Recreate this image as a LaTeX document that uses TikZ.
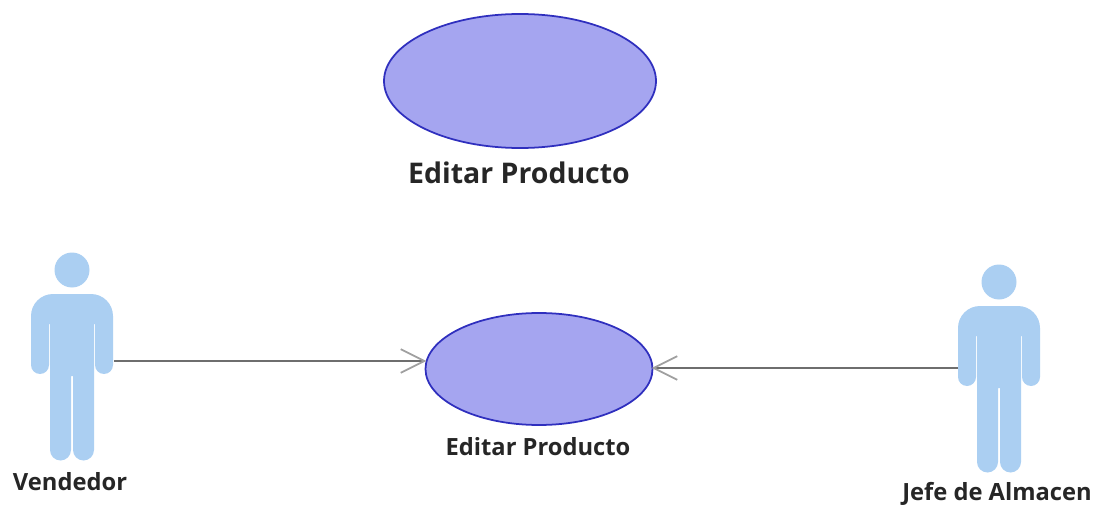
\documentclass[tikz,border=0pt]{standalone}
\usepackage{fontspec}
\setmainfont{Open Sans}
\usepackage{tikz}
\usetikzlibrary{arrows.meta,shapes.geometric}
\definecolor{usefill}{HTML}{A5A5F0}
\definecolor{usedraw}{HTML}{2F2FBE}
\definecolor{actorblue}{HTML}{ABCFF2}
\definecolor{linkgray}{HTML}{6E6E6E}
\definecolor{tipgray}{HTML}{A0A0A0}
\tikzset{
  usecase/.style={ellipse,draw=usedraw,fill=usefill,line width=1pt,inner sep=0pt},
  biglabel/.style={font=\bfseries\fontsize{16.2}{18}\selectfont,text=black!85,inner sep=0pt},
  smalllabel/.style={font=\bfseries\fontsize{13.5}{15}\selectfont,text=black!85,inner sep=0pt},
  link/.style={draw=linkgray,line width=0.8pt,-{Straight Barb[color=tipgray,length=13.5pt,width=13.5pt,line width=1pt]}},
  actorfig/.pic={
    \fill[actorblue] (0,0) circle (17.5);
    \fill[actorblue] (-41,95)
      arc[start angle=180,end angle=0,x radius=9,y radius=9] -- (-23,54) -- (-22,54)
      -- (-22,180) arc[start angle=180,end angle=0,x radius=10.5,y radius=10.5]
      -- (-1,106) -- (1,106) -- (1,180)
      arc[start angle=180,end angle=0,x radius=10.5,y radius=10.5]
      -- (22,54) -- (23,54) -- (23,95)
      arc[start angle=180,end angle=0,x radius=9,y radius=9]
      -- (41,46) arc[start angle=0,end angle=-90,x radius=22,y radius=22]
      -- (-19,24) arc[start angle=-90,end angle=-180,x radius=22,y radius=22] -- cycle;
  }
}
\begin{document}
\begin{tikzpicture}[x=0.02cm,y=-0.02cm]
  \useasboundingbox (0,0) rectangle (1107,507);
  % top use case
  \node[usecase,minimum width=272*0.02cm,minimum height=134*0.02cm] (topcase) at (520,81) {};
  \node[biglabel] (toplabel) at (519,173) {Editar Producto};
  % actors
  \pic at (72,270) {actorfig};
  \pic at (999,282) {actorfig};
  \node[smalllabel] (vendlabel) at (70,482) {Vendedor};
  \node[smalllabel] (jefelabel) at (997,494) {Jefe de Almacen};
  \coordinate (vend) at (114,361);
  \coordinate (jefe) at (958,368);
  % lower use case
  \node[usecase,minimum width=227*0.02cm,minimum height=112*0.02cm] (editcase) at (539,369) {};
  \node[smalllabel] (editlabel) at (538,447) {Editar Producto};
  \draw[link] (vend) -- ([xshift=1pt]vend -| editcase.west);
  \draw[link] (jefe) -- ([xshift=-1pt]jefe -| editcase.east);
\end{tikzpicture}
\end{document}
